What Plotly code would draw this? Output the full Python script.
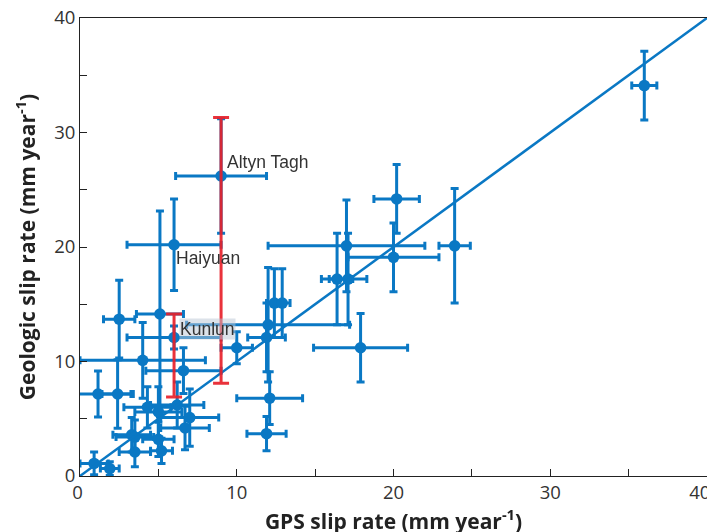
import plotly.graph_objects as go

# GPS slip rate (x) and geologic slip rate (y), with 1-sigma errors
gps = [36.0, 9.0, 6.0, 5.1, 6.0, 2.5, 4.0, 6.6, 10.0, 1.15, 2.4, 4.3, 5.0, 6.2, 7.0, 6.7,
       3.3, 3.5, 3.5, 5.0, 5.2, 0.9, 1.9, 12.1, 11.9, 11.9, 12.0, 12.4, 12.9, 17.9,
       16.4, 17.1, 17.0, 20.0, 20.2, 23.9]
gps_err = [0.8, 2.9, 3.0, 1.5, 3.0, 1.0, 4.0, 2.4, 1.0, 2.1, 1.0, 1.5, 1.5, 1.7, 1.85, 1.55,
           1.2, 1.2, 1.0, 1.0, 0.7, 0.9, 0.6, 2.1, 1.25, 1.2, 5.2, 0.5, 0.5, 3.0,
           1.0, 1.2, 5.0, 2.9, 1.45, 1.0]
geo = [34.1, 26.2, 20.2, 14.15, 12.1, 13.7, 10.1, 9.2, 11.2, 7.16, 7.16, 6.0, 5.6, 6.2, 5.1, 4.2,
       3.6, 3.4, 2.1, 3.2, 2.2, 1.1, 0.65, 6.8, 3.7, 12.1, 13.2, 15.1, 15.1, 11.2,
       17.2, 17.2, 20.1, 19.1, 24.2, 20.1]
geo_err = [3.0, 5.0, 4.0, 9.0, 1.0, 3.4, 3.3, 2.0, 1.4, 2.0, 3.0, 1.8, 2.2, 2.0, 2.5, 1.9,
           1.5, 1.5, 1.3, 1.5, 1.1, 1.0, 0.6, 2.3, 1.5, 3.0, 5.0, 3.0, 3.0, 3.0,
           4.0, 4.0, 4.0, 3.0, 3.0, 5.0]

# alternative geologic ranges (red bars)
red_gps = [9.0, 6.0]
red_geo = [26.2, 12.1]
red_plus = [5.1, 2.05]
red_minus = [18.1, 5.2]

# fault labels
labels = ["Altyn Tagh", "Haiyuan", "Kunlun"]
label_x = [9.3, 6.05, 6.3]
label_y = [27.4, 19.0, 12.85]

line_vals = [0, 40]
tick_vals = [0, 10, 20, 30, 40]
x_tick_text = ["0\u00a0", "10", "20", "30", "40" + "\u00a0" * 3]
y_tick_text = ["0", "10", "20", "30", "40"]

BLUE = "#0a78c4"
RED = "#e8202a"

fig = go.Figure()
fig.add_trace(go.Scatter(
    x=gps, y=geo, mode="markers",
    marker=dict(color=BLUE, size=11.5),
    error_x=dict(type="data", array=gps_err, color=BLUE, thickness=3, width=4),
    error_y=dict(type="data", array=geo_err, color=BLUE, thickness=3, width=4),
    cliponaxis=False, showlegend=False,
))
fig.add_trace(go.Scatter(
    x=line_vals, y=line_vals, mode="lines",
    line=dict(color=BLUE, width=2.5), showlegend=False,
))
fig.add_trace(go.Scatter(
    x=red_gps, y=red_geo, mode="markers",
    marker=dict(size=1, opacity=0),
    error_y=dict(type="data", symmetric=False, array=red_plus, arrayminus=red_minus,
                 color=RED, thickness=3, width=8),
    opacity=0.92, showlegend=False,
))

for i, t in enumerate(labels):
    fig.add_annotation(
        x=label_x[i], y=label_y[i], text=t, showarrow=False,
        xanchor="left", yanchor="middle",
        font=dict(family="Liberation Sans", size=17.5, color="#333333"),
        bgcolor="rgba(185,198,212,0.5)" if t == "Kunlun" else "rgba(0,0,0,0)",
        borderpad=0,
    )

axis_common = dict(
    range=[0, 40], tickvals=tick_vals, ticks="inside", ticklen=7, tickcolor="#222",
    showline=True, linecolor="#222", linewidth=1, mirror=True, showgrid=False,
    zeroline=False, tickfont=dict(family="Open Sans", size=18.5, color="#333"),
    minor=dict(dtick=5, tick0=0, ticks="inside", ticklen=7, tickcolor="#222", showgrid=False),
    automargin=False, ticklabeloverflow="allow",
)

# the page body adds an 8 px offset, so margins are set 8 px smaller at left/top
fig.update_layout(
    width=715, height=532,
    margin=dict(l=72, r=16, t=10, b=64),
    paper_bgcolor="white", plot_bgcolor="white",
    xaxis=dict(**axis_common, ticktext=x_tick_text,
               title=dict(text="<b>GPS slip rate (mm year<sup>-1</sup>)</b>",
                          font=dict(family="Open Sans", size=21, color="#222"), standoff=4)),
    yaxis=dict(**axis_common, ticktext=y_tick_text,
               title=dict(text="<b>Geologic slip rate (mm year<sup>-1</sup>)</b>",
                          font=dict(family="Open Sans", size=21, color="#222"), standoff=12)),
)

fig.write_html("out.html")
